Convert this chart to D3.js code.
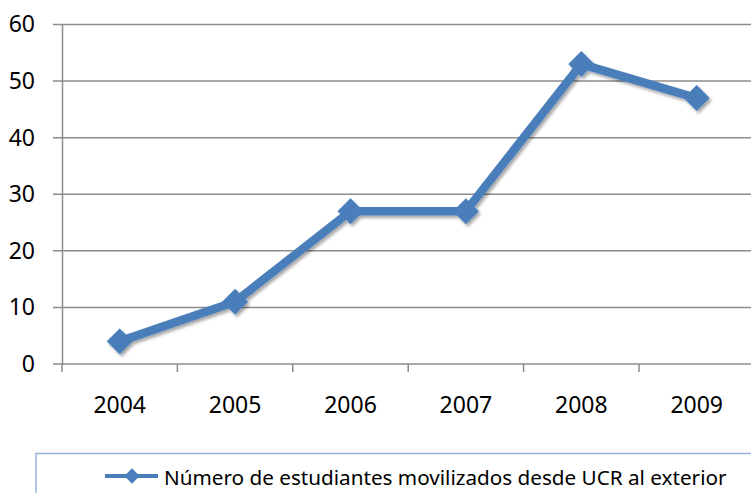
<!DOCTYPE html>
<html>
<head>
<meta charset="utf-8">
<script src="https://cdn.jsdelivr.net/npm/d3@7"></script>
<style>
  body { margin: 0; background: #fff; }
  svg { display: block; font-family: "Noto Sans", sans-serif; }
</style>
</head>
<body>
<div id="chart"></div>
<script>
const years = ["2004", "2005", "2006", "2007", "2008", "2009"];
const students = [4, 11, 27, 27, 53, 47];
const yTicks = [0, 10, 20, 30, 40, 50, 60];
const seriesName = "Número de estudiantes movilizados desde UCR al exterior";

const W = 751, H = 493;
const margin = { top: 24.5, left: 62, bottom: 129 };
const bandW = 115.4;

const svg = d3.select("#chart").append("svg")
  .attr("width", W).attr("height", H);

const defs = svg.append("defs");
const f = defs.append("filter").attr("id", "shadow")
  .attr("x", "-20%").attr("y", "-20%").attr("width", "140%").attr("height", "140%");
f.append("feDropShadow").attr("dx", 2).attr("dy", 2.5)
  .attr("stdDeviation", 1.6).attr("flood-color", "#000").attr("flood-opacity", 0.35);

const x = d3.scaleBand()
  .domain(years)
  .range([margin.left, margin.left + bandW * years.length]);

const y = d3.scaleLinear()
  .domain([0, 60])
  .range([H - margin.bottom, margin.top]);

// gridlines
svg.append("g")
  .selectAll("line")
  .data(yTicks)
  .join("line")
  .attr("x1", 53).attr("x2", W)
  .attr("y1", d => y(d)).attr("y2", d => y(d))
  .attr("stroke", "#8c8c8c").attr("stroke-width", 1.5);

// y axis
const yAxis = svg.append("g")
  .attr("transform", `translate(${margin.left},0)`)
  .call(d3.axisLeft(y).tickValues(yTicks).tickSize(0).tickPadding(27));
yAxis.select(".domain").attr("stroke", "#8c8c8c").attr("stroke-width", 1.5);
yAxis.selectAll("text").attr("font-size", 23).attr("fill", "#000")
  .attr("font-family", "Noto Sans, sans-serif");

// x axis
const xAxis = svg.append("g")
  .attr("transform", `translate(0,${y(0)})`)
  .call(d3.axisBottom(x).tickSize(0).tickPadding(33));
xAxis.select(".domain").remove();
xAxis.selectAll("text").attr("font-size", 23).attr("fill", "#000")
  .attr("font-family", "Noto Sans, sans-serif");

svg.append("g")
  .selectAll("line")
  .data(d3.range(years.length + 1))
  .join("line")
  .attr("x1", i => margin.left + i * bandW).attr("x2", i => margin.left + i * bandW)
  .attr("y1", y(0)).attr("y2", y(0) + 8)
  .attr("stroke", "#8c8c8c").attr("stroke-width", 1.5);

const color = "#4a7ebb";
const cx = d => x(d.year) + x.bandwidth() / 2;
const data = years.map((yr, i) => ({ year: yr, value: students[i] }));

const plot = svg.append("g").attr("filter", "url(#shadow)");

plot.append("path")
  .datum(data)
  .attr("d", d3.line().x(cx).y(d => y(d.value)))
  .attr("fill", "none")
  .attr("stroke", color)
  .attr("stroke-width", 8.5)
  .attr("stroke-linejoin", "round");

plot.selectAll("path.marker")
  .data(data)
  .join("path")
  .attr("class", "marker")
  .attr("d", d3.symbol(d3.symbolDiamond2, 430))
  .attr("transform", d => `translate(${cx(d)},${y(d.value)})`)
  .attr("fill", color);

// legend
svg.append("path")
  .attr("d", `M36,${H + 5}V453.5H${W + 5}`)
  .attr("fill", "none")
  .attr("stroke", "#95b3d7")
  .attr("stroke-width", 1.5);

svg.append("line")
  .attr("x1", 105).attr("x2", 158)
  .attr("y1", 476).attr("y2", 476)
  .attr("stroke", color).attr("stroke-width", 4);

svg.append("path")
  .attr("d", d3.symbol(d3.symbolDiamond2, 150))
  .attr("transform", "translate(132,476)")
  .attr("fill", color);

const lt = svg.append("text")
  .attr("x", 164).attr("y", 485)
  .attr("font-size", 20)
  .attr("fill", "#000")
  .text(seriesName);
// fit legend text to its width in the reference
const target = 563;
const w0 = lt.node().getComputedTextLength();
lt.attr("font-size", 20 * target / w0);
</script>
</body>
</html>
